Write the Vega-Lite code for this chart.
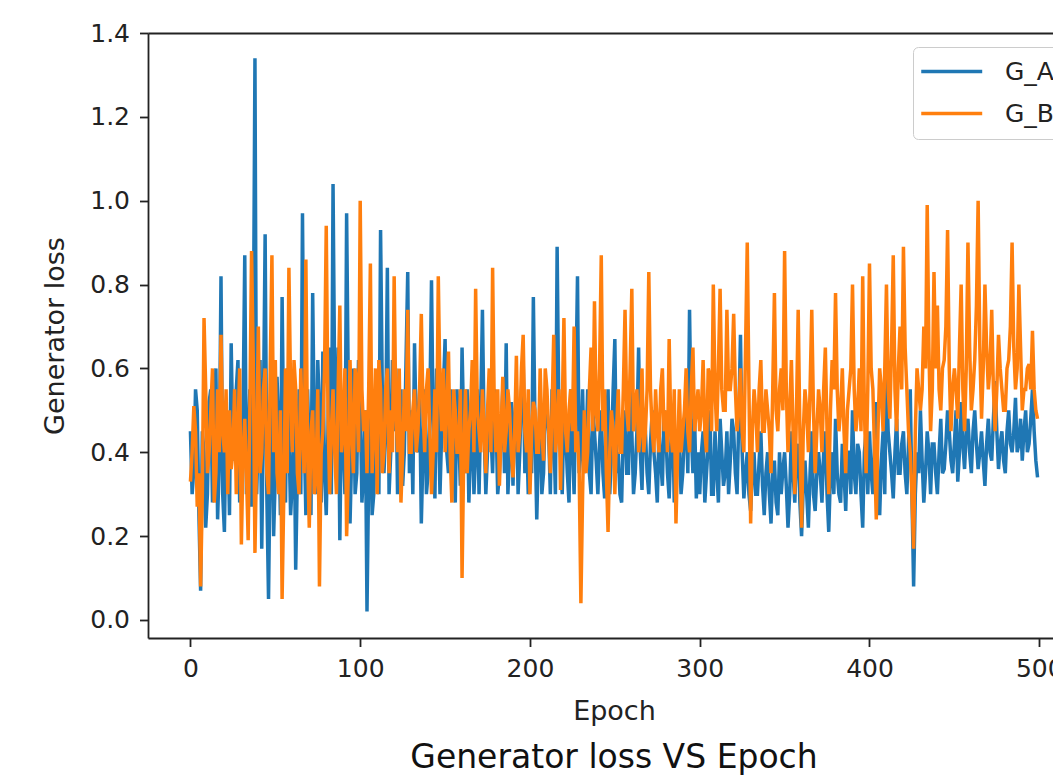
{
"$schema": "https://vega.github.io/schema/vega-lite/v6.json",
"width": 905, "height": 605,
"autosize": {"type": "none"},
"padding": {"left": 148, "top": 33, "right": 0, "bottom": 141},
"background": "white",
"config": {"view": {"stroke": null}, "font": "DejaVu Sans"},
"title": {"text": "Generator loss VS Epoch", "orient": "bottom", "anchor": "middle", "dx": 13.5, "offset": 17, "fontSize": 33, "fontWeight": "normal", "font": "DejaVu Sans", "color": "#111"},
"data": {"values": [
{"e":0,"G_A":0.45,"G_B":0.33},{"e":1,"G_A":0.30,"G_B":0.40},{"e":2,"G_A":0.36,"G_B":0.51},{"e":3,"G_A":0.55,"G_B":0.45},{"e":4,"G_A":0.50,"G_B":0.27},{"e":5,"G_A":0.25,"G_B":0.35},{"e":6,"G_A":0.07,"G_B":0.08},{"e":7,"G_A":0.45,"G_B":0.30},{"e":8,"G_A":0.40,"G_B":0.72},{"e":9,"G_A":0.22,"G_B":0.55},
{"e":10,"G_A":0.30,"G_B":0.35},{"e":11,"G_A":0.52,"G_B":0.40},{"e":12,"G_A":0.55,"G_B":0.50},{"e":13,"G_A":0.28,"G_B":0.60},{"e":14,"G_A":0.45,"G_B":0.28},{"e":15,"G_A":0.60,"G_B":0.35},{"e":16,"G_A":0.24,"G_B":0.55},{"e":17,"G_A":0.38,"G_B":0.40},{"e":18,"G_A":0.82,"G_B":0.68},{"e":19,"G_A":0.30,"G_B":0.45},
{"e":20,"G_A":0.21,"G_B":0.40},{"e":21,"G_A":0.48,"G_B":0.55},{"e":22,"G_A":0.45,"G_B":0.30},{"e":23,"G_A":0.25,"G_B":0.50},{"e":24,"G_A":0.66,"G_B":0.36},{"e":25,"G_A":0.42,"G_B":0.40},{"e":26,"G_A":0.38,"G_B":0.55},{"e":27,"G_A":0.55,"G_B":0.30},{"e":28,"G_A":0.62,"G_B":0.45},{"e":29,"G_A":0.28,"G_B":0.60},
{"e":30,"G_A":0.35,"G_B":0.18},{"e":31,"G_A":0.50,"G_B":0.40},{"e":32,"G_A":0.87,"G_B":0.48},{"e":33,"G_A":0.30,"G_B":0.35},{"e":34,"G_A":0.40,"G_B":0.19},{"e":35,"G_A":0.55,"G_B":0.50},{"e":36,"G_A":0.27,"G_B":0.88},{"e":37,"G_A":0.60,"G_B":0.62},{"e":38,"G_A":1.34,"G_B":0.16},{"e":39,"G_A":0.30,"G_B":0.40},
{"e":40,"G_A":0.45,"G_B":0.70},{"e":41,"G_A":0.62,"G_B":0.35},{"e":42,"G_A":0.17,"G_B":0.40},{"e":43,"G_A":0.50,"G_B":0.55},{"e":44,"G_A":0.92,"G_B":0.60},{"e":45,"G_A":0.30,"G_B":0.35},{"e":46,"G_A":0.05,"G_B":0.30},{"e":47,"G_A":0.40,"G_B":0.60},{"e":48,"G_A":0.55,"G_B":0.87},{"e":49,"G_A":0.20,"G_B":0.40},
{"e":50,"G_A":0.35,"G_B":0.62},{"e":51,"G_A":0.58,"G_B":0.35},{"e":52,"G_A":0.45,"G_B":0.30},{"e":53,"G_A":0.25,"G_B":0.50},{"e":54,"G_A":0.77,"G_B":0.05},{"e":55,"G_A":0.40,"G_B":0.30},{"e":56,"G_A":0.28,"G_B":0.60},{"e":57,"G_A":0.60,"G_B":0.35},{"e":58,"G_A":0.45,"G_B":0.84},{"e":59,"G_A":0.25,"G_B":0.55},
{"e":60,"G_A":0.33,"G_B":0.40},{"e":61,"G_A":0.50,"G_B":0.62},{"e":62,"G_A":0.12,"G_B":0.55},{"e":63,"G_A":0.35,"G_B":0.35},{"e":64,"G_A":0.55,"G_B":0.30},{"e":65,"G_A":0.30,"G_B":0.60},{"e":66,"G_A":0.97,"G_B":0.45},{"e":67,"G_A":0.45,"G_B":0.35},{"e":68,"G_A":0.25,"G_B":0.86},{"e":69,"G_A":0.55,"G_B":0.40},
{"e":70,"G_A":0.40,"G_B":0.22},{"e":71,"G_A":0.25,"G_B":0.45},{"e":72,"G_A":0.78,"G_B":0.50},{"e":73,"G_A":0.45,"G_B":0.30},{"e":74,"G_A":0.30,"G_B":0.35},{"e":75,"G_A":0.62,"G_B":0.55},{"e":76,"G_A":0.50,"G_B":0.08},{"e":77,"G_A":0.28,"G_B":0.40},{"e":78,"G_A":0.64,"G_B":0.45},{"e":79,"G_A":0.35,"G_B":0.60},
{"e":80,"G_A":0.25,"G_B":0.94},{"e":81,"G_A":0.45,"G_B":0.50},{"e":82,"G_A":0.65,"G_B":0.30},{"e":83,"G_A":0.30,"G_B":0.45},{"e":84,"G_A":1.04,"G_B":0.55},{"e":85,"G_A":0.55,"G_B":0.40},{"e":86,"G_A":0.40,"G_B":0.30},{"e":87,"G_A":0.65,"G_B":0.55},{"e":88,"G_A":0.19,"G_B":0.75},{"e":89,"G_A":0.50,"G_B":0.40},
{"e":90,"G_A":0.45,"G_B":0.45},{"e":91,"G_A":0.30,"G_B":0.60},{"e":92,"G_A":0.97,"G_B":0.20},{"e":93,"G_A":0.55,"G_B":0.35},{"e":94,"G_A":0.23,"G_B":0.62},{"e":95,"G_A":0.40,"G_B":0.45},{"e":96,"G_A":0.60,"G_B":0.35},{"e":97,"G_A":0.30,"G_B":0.60},{"e":98,"G_A":0.35,"G_B":0.55},{"e":99,"G_A":0.62,"G_B":0.40},
{"e":100,"G_A":0.55,"G_B":1.00},{"e":101,"G_A":0.28,"G_B":0.55},{"e":102,"G_A":0.35,"G_B":0.45},{"e":103,"G_A":0.50,"G_B":0.50},{"e":104,"G_A":0.02,"G_B":0.35},{"e":105,"G_A":0.35,"G_B":0.55},{"e":106,"G_A":0.60,"G_B":0.85},{"e":107,"G_A":0.25,"G_B":0.35},{"e":108,"G_A":0.30,"G_B":0.45},{"e":109,"G_A":0.45,"G_B":0.60},
{"e":110,"G_A":0.58,"G_B":0.30},{"e":111,"G_A":0.30,"G_B":0.62},{"e":112,"G_A":0.93,"G_B":0.55},{"e":113,"G_A":0.55,"G_B":0.35},{"e":114,"G_A":0.35,"G_B":0.40},{"e":115,"G_A":0.45,"G_B":0.55},{"e":116,"G_A":0.84,"G_B":0.60},{"e":117,"G_A":0.30,"G_B":0.35},{"e":118,"G_A":0.40,"G_B":0.50},{"e":119,"G_A":0.62,"G_B":0.40},
{"e":120,"G_A":0.45,"G_B":0.82},{"e":121,"G_A":0.60,"G_B":0.50},{"e":122,"G_A":0.30,"G_B":0.40},{"e":123,"G_A":0.45,"G_B":0.60},{"e":124,"G_A":0.55,"G_B":0.28},{"e":125,"G_A":0.32,"G_B":0.40},{"e":126,"G_A":0.40,"G_B":0.55},{"e":127,"G_A":0.62,"G_B":0.45},{"e":128,"G_A":0.83,"G_B":0.74},{"e":129,"G_A":0.35,"G_B":0.40},
{"e":130,"G_A":0.50,"G_B":0.40},{"e":131,"G_A":0.30,"G_B":0.50},{"e":132,"G_A":0.66,"G_B":0.55},{"e":133,"G_A":0.45,"G_B":0.40},{"e":134,"G_A":0.40,"G_B":0.45},{"e":135,"G_A":0.55,"G_B":0.55},{"e":136,"G_A":0.23,"G_B":0.73},{"e":137,"G_A":0.40,"G_B":0.50},{"e":138,"G_A":0.55,"G_B":0.40},{"e":139,"G_A":0.30,"G_B":0.55},
{"e":140,"G_A":0.35,"G_B":0.60},{"e":141,"G_A":0.50,"G_B":0.45},{"e":142,"G_A":0.81,"G_B":0.30},{"e":143,"G_A":0.45,"G_B":0.40},{"e":144,"G_A":0.29,"G_B":0.55},{"e":145,"G_A":0.60,"G_B":0.40},{"e":146,"G_A":0.50,"G_B":0.82},{"e":147,"G_A":0.30,"G_B":0.55},{"e":148,"G_A":0.45,"G_B":0.45},{"e":149,"G_A":0.55,"G_B":0.60},
{"e":150,"G_A":0.67,"G_B":0.40},{"e":151,"G_A":0.40,"G_B":0.50},{"e":152,"G_A":0.35,"G_B":0.64},{"e":153,"G_A":0.55,"G_B":0.40},{"e":154,"G_A":0.50,"G_B":0.28},{"e":155,"G_A":0.40,"G_B":0.55},{"e":156,"G_A":0.28,"G_B":0.50},{"e":157,"G_A":0.55,"G_B":0.40},{"e":158,"G_A":0.45,"G_B":0.40},{"e":159,"G_A":0.32,"G_B":0.55},
{"e":160,"G_A":0.65,"G_B":0.10},{"e":161,"G_A":0.45,"G_B":0.40},{"e":162,"G_A":0.35,"G_B":0.55},{"e":163,"G_A":0.55,"G_B":0.35},{"e":164,"G_A":0.28,"G_B":0.45},{"e":165,"G_A":0.40,"G_B":0.50},{"e":166,"G_A":0.50,"G_B":0.62},{"e":167,"G_A":0.30,"G_B":0.40},{"e":168,"G_A":0.40,"G_B":0.79},{"e":169,"G_A":0.55,"G_B":0.50},
{"e":170,"G_A":0.30,"G_B":0.45},{"e":171,"G_A":0.50,"G_B":0.40},{"e":172,"G_A":0.74,"G_B":0.55},{"e":173,"G_A":0.45,"G_B":0.45},{"e":174,"G_A":0.30,"G_B":0.35},{"e":175,"G_A":0.40,"G_B":0.50},{"e":176,"G_A":0.55,"G_B":0.60},{"e":177,"G_A":0.45,"G_B":0.40},{"e":178,"G_A":0.35,"G_B":0.84},{"e":179,"G_A":0.55,"G_B":0.50},
{"e":180,"G_A":0.48,"G_B":0.40},{"e":181,"G_A":0.30,"G_B":0.55},{"e":182,"G_A":0.35,"G_B":0.32},{"e":183,"G_A":0.45,"G_B":0.45},{"e":184,"G_A":0.55,"G_B":0.58},{"e":185,"G_A":0.35,"G_B":0.40},{"e":186,"G_A":0.66,"G_B":0.45},{"e":187,"G_A":0.30,"G_B":0.55},{"e":188,"G_A":0.40,"G_B":0.50},{"e":189,"G_A":0.52,"G_B":0.40},
{"e":190,"G_A":0.32,"G_B":0.34},{"e":191,"G_A":0.48,"G_B":0.45},{"e":192,"G_A":0.55,"G_B":0.63},{"e":193,"G_A":0.30,"G_B":0.40},{"e":194,"G_A":0.40,"G_B":0.45},{"e":195,"G_A":0.55,"G_B":0.60},{"e":196,"G_A":0.62,"G_B":0.68},{"e":197,"G_A":0.35,"G_B":0.45},{"e":198,"G_A":0.45,"G_B":0.40},{"e":199,"G_A":0.30,"G_B":0.55},
{"e":200,"G_A":0.45,"G_B":0.30},{"e":201,"G_A":0.35,"G_B":0.45},{"e":202,"G_A":0.77,"G_B":0.52},{"e":203,"G_A":0.45,"G_B":0.50},{"e":204,"G_A":0.24,"G_B":0.40},{"e":205,"G_A":0.40,"G_B":0.40},{"e":206,"G_A":0.55,"G_B":0.60},{"e":207,"G_A":0.30,"G_B":0.45},{"e":208,"G_A":0.35,"G_B":0.38},{"e":209,"G_A":0.50,"G_B":0.60},
{"e":210,"G_A":0.50,"G_B":0.55},{"e":211,"G_A":0.45,"G_B":0.45},{"e":212,"G_A":0.30,"G_B":0.35},{"e":213,"G_A":0.55,"G_B":0.50},{"e":214,"G_A":0.45,"G_B":0.68},{"e":215,"G_A":0.30,"G_B":0.40},{"e":216,"G_A":0.89,"G_B":0.45},{"e":217,"G_A":0.50,"G_B":0.55},{"e":218,"G_A":0.40,"G_B":0.31},{"e":219,"G_A":0.30,"G_B":0.50},
{"e":220,"G_A":0.50,"G_B":0.72},{"e":221,"G_A":0.45,"G_B":0.45},{"e":222,"G_A":0.35,"G_B":0.40},{"e":223,"G_A":0.28,"G_B":0.50},{"e":224,"G_A":0.55,"G_B":0.55},{"e":225,"G_A":0.42,"G_B":0.45},{"e":226,"G_A":0.30,"G_B":0.70},{"e":227,"G_A":0.55,"G_B":0.40},{"e":228,"G_A":0.82,"G_B":0.45},{"e":229,"G_A":0.35,"G_B":0.35},
{"e":230,"G_A":0.40,"G_B":0.04},{"e":231,"G_A":0.55,"G_B":0.30},{"e":232,"G_A":0.35,"G_B":0.50},{"e":233,"G_A":0.40,"G_B":0.35},{"e":234,"G_A":0.55,"G_B":0.40},{"e":235,"G_A":0.35,"G_B":0.55},{"e":236,"G_A":0.30,"G_B":0.65},{"e":237,"G_A":0.50,"G_B":0.45},{"e":238,"G_A":0.45,"G_B":0.76},{"e":239,"G_A":0.38,"G_B":0.50},
{"e":240,"G_A":0.30,"G_B":0.45},{"e":241,"G_A":0.42,"G_B":0.60},{"e":242,"G_A":0.50,"G_B":0.87},{"e":243,"G_A":0.35,"G_B":0.45},{"e":244,"G_A":0.29,"G_B":0.55},{"e":245,"G_A":0.45,"G_B":0.35},{"e":246,"G_A":0.55,"G_B":0.21},{"e":247,"G_A":0.30,"G_B":0.40},{"e":248,"G_A":0.40,"G_B":0.50},{"e":249,"G_A":0.55,"G_B":0.45},
{"e":250,"G_A":0.67,"G_B":0.30},{"e":251,"G_A":0.35,"G_B":0.45},{"e":252,"G_A":0.40,"G_B":0.55},{"e":253,"G_A":0.30,"G_B":0.40},{"e":254,"G_A":0.28,"G_B":0.40},{"e":255,"G_A":0.45,"G_B":0.55},{"e":256,"G_A":0.50,"G_B":0.74},{"e":257,"G_A":0.35,"G_B":0.50},{"e":258,"G_A":0.35,"G_B":0.45},{"e":259,"G_A":0.55,"G_B":0.60},
{"e":260,"G_A":0.45,"G_B":0.79},{"e":261,"G_A":0.30,"G_B":0.45},{"e":262,"G_A":0.35,"G_B":0.50},{"e":263,"G_A":0.45,"G_B":0.55},{"e":264,"G_A":0.65,"G_B":0.40},{"e":265,"G_A":0.40,"G_B":0.45},{"e":266,"G_A":0.31,"G_B":0.60},{"e":267,"G_A":0.50,"G_B":0.40},{"e":268,"G_A":0.45,"G_B":0.45},{"e":269,"G_A":0.35,"G_B":0.55},
{"e":270,"G_A":0.30,"G_B":0.83},{"e":271,"G_A":0.42,"G_B":0.55},{"e":272,"G_A":0.50,"G_B":0.45},{"e":273,"G_A":0.40,"G_B":0.40},{"e":274,"G_A":0.35,"G_B":0.55},{"e":275,"G_A":0.28,"G_B":0.45},{"e":276,"G_A":0.45,"G_B":0.40},{"e":277,"G_A":0.38,"G_B":0.55},{"e":278,"G_A":0.32,"G_B":0.60},{"e":279,"G_A":0.50,"G_B":0.45},
{"e":280,"G_A":0.45,"G_B":0.50},{"e":281,"G_A":0.35,"G_B":0.40},{"e":282,"G_A":0.29,"G_B":0.67},{"e":283,"G_A":0.42,"G_B":0.45},{"e":284,"G_A":0.50,"G_B":0.40},{"e":285,"G_A":0.28,"G_B":0.55},{"e":286,"G_A":0.35,"G_B":0.23},{"e":287,"G_A":0.45,"G_B":0.40},{"e":288,"G_A":0.42,"G_B":0.55},{"e":289,"G_A":0.30,"G_B":0.40},
{"e":290,"G_A":0.35,"G_B":0.45},{"e":291,"G_A":0.45,"G_B":0.50},{"e":292,"G_A":0.50,"G_B":0.60},{"e":293,"G_A":0.35,"G_B":0.45},{"e":294,"G_A":0.74,"G_B":0.40},{"e":295,"G_A":0.45,"G_B":0.55},{"e":296,"G_A":0.35,"G_B":0.65},{"e":297,"G_A":0.48,"G_B":0.45},{"e":298,"G_A":0.29,"G_B":0.50},{"e":299,"G_A":0.40,"G_B":0.55},
{"e":300,"G_A":0.30,"G_B":0.45},{"e":301,"G_A":0.40,"G_B":0.50},{"e":302,"G_A":0.45,"G_B":0.62},{"e":303,"G_A":0.28,"G_B":0.45},{"e":304,"G_A":0.35,"G_B":0.40},{"e":305,"G_A":0.42,"G_B":0.60},{"e":306,"G_A":0.50,"G_B":0.58},{"e":307,"G_A":0.30,"G_B":0.45},{"e":308,"G_A":0.30,"G_B":0.80},{"e":309,"G_A":0.45,"G_B":0.55},
{"e":310,"G_A":0.36,"G_B":0.45},{"e":311,"G_A":0.28,"G_B":0.60},{"e":312,"G_A":0.48,"G_B":0.79},{"e":313,"G_A":0.40,"G_B":0.55},{"e":314,"G_A":0.32,"G_B":0.50},{"e":315,"G_A":0.35,"G_B":0.50},{"e":316,"G_A":0.45,"G_B":0.74},{"e":317,"G_A":0.30,"G_B":0.55},{"e":318,"G_A":0.38,"G_B":0.55},{"e":319,"G_A":0.48,"G_B":0.60},
{"e":320,"G_A":0.45,"G_B":0.73},{"e":321,"G_A":0.35,"G_B":0.55},{"e":322,"G_A":0.30,"G_B":0.45},{"e":323,"G_A":0.48,"G_B":0.50},{"e":324,"G_A":0.68,"G_B":0.60},{"e":325,"G_A":0.40,"G_B":0.45},{"e":326,"G_A":0.29,"G_B":0.40},{"e":327,"G_A":0.35,"G_B":0.65},{"e":328,"G_A":0.40,"G_B":0.90},{"e":329,"G_A":0.30,"G_B":0.55},
{"e":330,"G_A":0.26,"G_B":0.23},{"e":331,"G_A":0.35,"G_B":0.45},{"e":332,"G_A":0.40,"G_B":0.55},{"e":333,"G_A":0.30,"G_B":0.50},{"e":334,"G_A":0.30,"G_B":0.40},{"e":335,"G_A":0.38,"G_B":0.55},{"e":336,"G_A":0.45,"G_B":0.62},{"e":337,"G_A":0.32,"G_B":0.45},{"e":338,"G_A":0.25,"G_B":0.45},{"e":339,"G_A":0.35,"G_B":0.55},
{"e":340,"G_A":0.40,"G_B":0.50},{"e":341,"G_A":0.30,"G_B":0.45},{"e":342,"G_A":0.23,"G_B":0.35},{"e":343,"G_A":0.35,"G_B":0.55},{"e":344,"G_A":0.38,"G_B":0.78},{"e":345,"G_A":0.28,"G_B":0.50},{"e":346,"G_A":0.25,"G_B":0.45},{"e":347,"G_A":0.40,"G_B":0.55},{"e":348,"G_A":0.30,"G_B":0.60},{"e":349,"G_A":0.36,"G_B":0.50},
{"e":350,"G_A":0.40,"G_B":0.88},{"e":351,"G_A":0.32,"G_B":0.55},{"e":352,"G_A":0.22,"G_B":0.40},{"e":353,"G_A":0.30,"G_B":0.50},{"e":354,"G_A":0.45,"G_B":0.62},{"e":355,"G_A":0.35,"G_B":0.45},{"e":356,"G_A":0.28,"G_B":0.30},{"e":357,"G_A":0.40,"G_B":0.50},{"e":358,"G_A":0.42,"G_B":0.74},{"e":359,"G_A":0.28,"G_B":0.45},
{"e":360,"G_A":0.20,"G_B":0.22},{"e":361,"G_A":0.32,"G_B":0.45},{"e":362,"G_A":0.38,"G_B":0.55},{"e":363,"G_A":0.30,"G_B":0.50},{"e":364,"G_A":0.22,"G_B":0.40},{"e":365,"G_A":0.35,"G_B":0.55},{"e":366,"G_A":0.45,"G_B":0.74},{"e":367,"G_A":0.30,"G_B":0.50},{"e":368,"G_A":0.26,"G_B":0.35},{"e":369,"G_A":0.35,"G_B":0.45},
{"e":370,"G_A":0.40,"G_B":0.55},{"e":371,"G_A":0.35,"G_B":0.50},{"e":372,"G_A":0.28,"G_B":0.40},{"e":373,"G_A":0.40,"G_B":0.55},{"e":374,"G_A":0.45,"G_B":0.65},{"e":375,"G_A":0.30,"G_B":0.45},{"e":376,"G_A":0.21,"G_B":0.30},{"e":377,"G_A":0.35,"G_B":0.50},{"e":378,"G_A":0.40,"G_B":0.62},{"e":379,"G_A":0.30,"G_B":0.55},
{"e":380,"G_A":0.48,"G_B":0.78},{"e":381,"G_A":0.35,"G_B":0.55},{"e":382,"G_A":0.30,"G_B":0.45},{"e":383,"G_A":0.28,"G_B":0.50},{"e":384,"G_A":0.42,"G_B":0.60},{"e":385,"G_A":0.35,"G_B":0.45},{"e":386,"G_A":0.26,"G_B":0.35},{"e":387,"G_A":0.40,"G_B":0.50},{"e":388,"G_A":0.40,"G_B":0.55},{"e":389,"G_A":0.30,"G_B":0.60},
{"e":390,"G_A":0.50,"G_B":0.80},{"e":391,"G_A":0.35,"G_B":0.55},{"e":392,"G_A":0.30,"G_B":0.45},{"e":393,"G_A":0.42,"G_B":0.50},{"e":394,"G_A":0.40,"G_B":0.60},{"e":395,"G_A":0.30,"G_B":0.45},{"e":396,"G_A":0.22,"G_B":0.82},{"e":397,"G_A":0.40,"G_B":0.50},{"e":398,"G_A":0.45,"G_B":0.35},{"e":399,"G_A":0.30,"G_B":0.55},
{"e":400,"G_A":0.45,"G_B":0.85},{"e":401,"G_A":0.35,"G_B":0.60},{"e":402,"G_A":0.30,"G_B":0.55},{"e":403,"G_A":0.42,"G_B":0.40},{"e":404,"G_A":0.52,"G_B":0.24},{"e":405,"G_A":0.30,"G_B":0.45},{"e":406,"G_A":0.25,"G_B":0.60},{"e":407,"G_A":0.38,"G_B":0.55},{"e":408,"G_A":0.45,"G_B":0.45},{"e":409,"G_A":0.30,"G_B":0.60},
{"e":410,"G_A":0.60,"G_B":0.80},{"e":411,"G_A":0.45,"G_B":0.55},{"e":412,"G_A":0.40,"G_B":0.48},{"e":413,"G_A":0.35,"G_B":0.65},{"e":414,"G_A":0.29,"G_B":0.87},{"e":415,"G_A":0.40,"G_B":0.55},{"e":416,"G_A":0.48,"G_B":0.45},{"e":417,"G_A":0.35,"G_B":0.60},{"e":418,"G_A":0.35,"G_B":0.70},{"e":419,"G_A":0.42,"G_B":0.55},
{"e":420,"G_A":0.45,"G_B":0.89},{"e":421,"G_A":0.35,"G_B":0.65},{"e":422,"G_A":0.30,"G_B":0.55},{"e":423,"G_A":0.42,"G_B":0.45},{"e":424,"G_A":0.55,"G_B":0.40},{"e":425,"G_A":0.30,"G_B":0.30},{"e":426,"G_A":0.08,"G_B":0.17},{"e":427,"G_A":0.30,"G_B":0.45},{"e":428,"G_A":0.40,"G_B":0.60},{"e":429,"G_A":0.35,"G_B":0.55},
{"e":430,"G_A":0.50,"G_B":0.50},{"e":431,"G_A":0.38,"G_B":0.55},{"e":432,"G_A":0.28,"G_B":0.70},{"e":433,"G_A":0.35,"G_B":0.60},{"e":434,"G_A":0.45,"G_B":0.99},{"e":435,"G_A":0.40,"G_B":0.65},{"e":436,"G_A":0.30,"G_B":0.45},{"e":437,"G_A":0.42,"G_B":0.55},{"e":438,"G_A":0.42,"G_B":0.83},{"e":439,"G_A":0.35,"G_B":0.60},
{"e":440,"G_A":0.30,"G_B":0.75},{"e":441,"G_A":0.40,"G_B":0.55},{"e":442,"G_A":0.48,"G_B":0.50},{"e":443,"G_A":0.35,"G_B":0.60},{"e":444,"G_A":0.36,"G_B":0.62},{"e":445,"G_A":0.42,"G_B":0.70},{"e":446,"G_A":0.50,"G_B":0.93},{"e":447,"G_A":0.45,"G_B":0.60},{"e":448,"G_A":0.38,"G_B":0.45},{"e":449,"G_A":0.35,"G_B":0.55},
{"e":450,"G_A":0.42,"G_B":0.60},{"e":451,"G_A":0.50,"G_B":0.55},{"e":452,"G_A":0.33,"G_B":0.48},{"e":453,"G_A":0.40,"G_B":0.65},{"e":454,"G_A":0.52,"G_B":0.80},{"e":455,"G_A":0.42,"G_B":0.55},{"e":456,"G_A":0.36,"G_B":0.45},{"e":457,"G_A":0.45,"G_B":0.60},{"e":458,"G_A":0.48,"G_B":0.90},{"e":459,"G_A":0.40,"G_B":0.65},
{"e":460,"G_A":0.35,"G_B":0.50},{"e":461,"G_A":0.45,"G_B":0.55},{"e":462,"G_A":0.50,"G_B":0.62},{"e":463,"G_A":0.42,"G_B":0.75},{"e":464,"G_A":0.36,"G_B":1.00},{"e":465,"G_A":0.40,"G_B":0.65},{"e":466,"G_A":0.45,"G_B":0.48},{"e":467,"G_A":0.38,"G_B":0.60},{"e":468,"G_A":0.32,"G_B":0.80},{"e":469,"G_A":0.42,"G_B":0.65},
{"e":470,"G_A":0.48,"G_B":0.55},{"e":471,"G_A":0.40,"G_B":0.60},{"e":472,"G_A":0.38,"G_B":0.74},{"e":473,"G_A":0.48,"G_B":0.55},{"e":474,"G_A":0.57,"G_B":0.45},{"e":475,"G_A":0.45,"G_B":0.55},{"e":476,"G_A":0.36,"G_B":0.68},{"e":477,"G_A":0.42,"G_B":0.60},{"e":478,"G_A":0.45,"G_B":0.55},{"e":479,"G_A":0.38,"G_B":0.50},
{"e":480,"G_A":0.35,"G_B":0.50},{"e":481,"G_A":0.45,"G_B":0.60},{"e":482,"G_A":0.50,"G_B":0.62},{"e":483,"G_A":0.42,"G_B":0.70},{"e":484,"G_A":0.40,"G_B":0.90},{"e":485,"G_A":0.45,"G_B":0.65},{"e":486,"G_A":0.53,"G_B":0.55},{"e":487,"G_A":0.40,"G_B":0.60},{"e":488,"G_A":0.42,"G_B":0.80},{"e":489,"G_A":0.48,"G_B":0.65},
{"e":490,"G_A":0.38,"G_B":0.50},{"e":491,"G_A":0.45,"G_B":0.55},{"e":492,"G_A":0.50,"G_B":0.55},{"e":493,"G_A":0.40,"G_B":0.60},{"e":494,"G_A":0.42,"G_B":0.61},{"e":495,"G_A":0.48,"G_B":0.55},{"e":496,"G_A":0.55,"G_B":0.69},{"e":497,"G_A":0.45,"G_B":0.55},{"e":498,"G_A":0.38,"G_B":0.50},{"e":499,"G_A":0.34,"G_B":0.48}
]},
"transform": [{"fold": ["G_A", "G_B"], "as": ["series", "loss"]}],
"layer": [
{"mark": {"type": "line", "strokeWidth": 3.5, "clip": true},
 "encoding": {
  "x": {"field": "e", "type": "quantitative", "scale": {"domain": [-25, 508.1], "nice": false, "zero": false},
   "axis": {"orient": "bottom", "values": [0, 100, 200, 300, 400, 500], "format": "d", "grid": false, "tickSize": 8.5, "tickWidth": 1.8, "tickColor": "#222", "domainColor": "#222", "domainWidth": 1.8, "labelFontSize": 25, "labelPadding": 10, "labelColor": "#222", "labelFlush": false, "labelOverlap": false, "title": "Epoch", "titleFontSize": 27, "titleFontWeight": "normal", "titleColor": "#222", "titlePadding": 17, "titleX": 466, "titleAlign": "center"}},
  "y": {"field": "loss", "type": "quantitative", "scale": {"domain": [-0.043, 1.4], "nice": false, "zero": false},
   "axis": {"values": [0, 0.2, 0.4, 0.6, 0.8, 1.0, 1.2, 1.4], "format": ".1f", "grid": false, "tickSize": 8.5, "tickWidth": 1.8, "tickColor": "#222", "domainColor": "#222", "domainWidth": 1.8, "labelFontSize": 25, "labelPadding": 10, "labelColor": "#222", "labelFlush": false, "labelOverlap": false, "title": "Generator loss", "titleFontSize": 27, "titleFontWeight": "normal", "titleColor": "#222", "titlePadding": 20}},
  "color": {"field": "series", "type": "nominal", "scale": {"domain": ["G_A", "G_B"], "range": ["#1f77b4", "#ff7f0e"]},
   "legend": {"orient": "none", "legendX": 765, "legendY": 14, "title": null, "symbolType": "M-1.6,0H4.4", "symbolSize": 413, "symbolStrokeWidth": 3.5, "labelFontSize": 25, "labelOffset": 55, "labelColor": "#222", "padding": 12, "rowPadding": 16, "fillColor": "rgba(255,255,255,0.85)", "strokeColor": "#cccccc", "cornerRadius": 5}}
 }},
{"mark": {"type": "line", "opacity": 0},
 "encoding": {
  "x": {"field": "e", "type": "quantitative", "axis": {"orient": "top", "labels": false, "ticks": false, "title": null, "grid": false, "domain": true, "domainColor": "#222", "domainWidth": 1.8}},
  "y": {"field": "loss", "type": "quantitative"},
  "detail": {"field": "series"}
 }}
],
"resolve": {"axis": {"x": "independent"}}
}
